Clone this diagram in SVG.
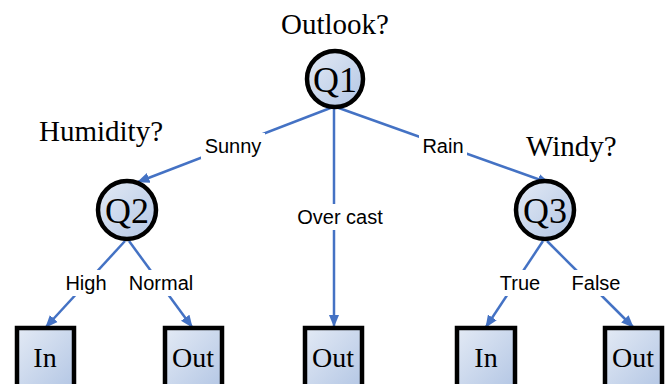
<svg xmlns="http://www.w3.org/2000/svg" width="672" height="384" viewBox="0 0 672 384">
<defs>
<linearGradient id="g" x1="0" y1="0" x2="1" y2="1">
<stop offset="0" stop-color="#e3eaf5"/>
<stop offset="1" stop-color="#b3c6e4"/>
</linearGradient>
<marker id="ah" viewBox="0 0 12 10" refX="11" refY="5" markerWidth="5" markerHeight="4.5" orient="auto" markerUnits="strokeWidth">
<path d="M0,0 L12,5 L0,10 z" fill="#4472c4"/>
</marker>
</defs>
<style>
.node{fill:url(#g);stroke:#000;stroke-width:4.5}
.nt{font-family:"Liberation Serif",serif;fill:#000;text-anchor:middle}
.qt{font-size:36px}
.bt{font-size:28px}
.cap{font-family:"Liberation Serif",serif;font-size:29px;fill:#000}
.edge{stroke:#4472c4;stroke-width:2.5;fill:none;marker-end:url(#ah)}
.lbg{fill:#fff}
.lt{font-family:"Liberation Sans",Arial,sans-serif;font-size:20px;fill:#000;text-anchor:middle}
</style>
<rect width="672" height="384" fill="#fff"/>
<g id="connectors">
<line class="edge" x1="333" y1="107" x2="138" y2="182"/>
<line class="edge" x1="334" y1="108" x2="334" y2="326"/>
<line class="edge" x1="336" y1="107" x2="549" y2="183"/>
<line class="edge" x1="125" y1="241" x2="46" y2="327"/>
<line class="edge" x1="129" y1="241" x2="192" y2="327"/>
<line class="edge" x1="543" y1="241" x2="486" y2="327"/>
<line class="edge" x1="547" y1="241" x2="633" y2="327"/>
<rect class="lbg" x="201" y="133" width="64" height="26"/>
<text class="lt" x="233" y="153">Sunny</text>
<rect class="lbg" x="419" y="133" width="48" height="26"/>
<text class="lt" x="443" y="153">Rain</text>
<rect class="lbg" x="292" y="204" width="96" height="26"/>
<text class="lt" x="340" y="224">Over cast</text>
<rect class="lbg" x="61" y="270" width="50" height="26"/>
<text class="lt" x="86" y="290">High</text>
<rect class="lbg" x="123" y="270" width="76" height="26"/>
<text class="lt" x="161" y="290">Normal</text>
<rect class="lbg" x="496" y="270" width="48" height="26"/>
<text class="lt" x="520" y="290">True</text>
<rect class="lbg" x="566" y="270" width="60" height="26"/>
<text class="lt" x="596" y="290">False</text>
</g>
<text class="cap" x="335" y="34" text-anchor="middle">Outlook?</text>
<text class="cap" x="39" y="141">Humidity?</text>
<text class="cap" x="526" y="156">Windy?</text>
<g id="Q1">
<circle class="node" cx="335" cy="79" r="28"/>
<text class="nt qt" x="335" y="92">Q1</text>
</g>
<g id="Q2">
<circle class="node" cx="127" cy="210" r="29"/>
<text class="nt qt" x="127" y="223">Q2</text>
</g>
<g id="Q3">
<circle class="node" cx="545" cy="210" r="29"/>
<text class="nt qt" x="545" y="223">Q3</text>
</g>
<g id="In1">
<rect class="node" x="17" y="328" width="57" height="62"/>
<text class="nt bt" x="45" y="367">In</text>
</g>
<g id="Out1">
<rect class="node" x="165" y="328" width="57" height="62"/>
<text class="nt bt" x="193" y="367">Out</text>
</g>
<g id="Out2">
<rect class="node" x="305" y="328" width="57" height="62"/>
<text class="nt bt" x="333" y="367">Out</text>
</g>
<g id="In2">
<rect class="node" x="457" y="328" width="58" height="62"/>
<text class="nt bt" x="486" y="367">In</text>
</g>
<g id="Out3">
<rect class="node" x="605" y="328" width="57" height="62"/>
<text class="nt bt" x="633" y="367">Out</text>
</g>
</svg>
